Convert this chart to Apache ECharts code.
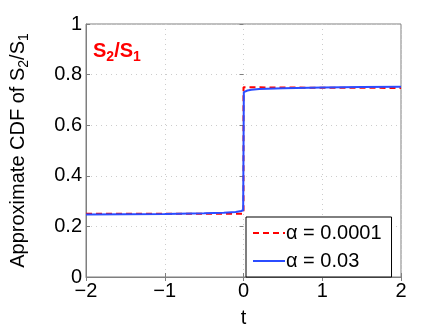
<!DOCTYPE html>
<html lang="en">
<head>
    <meta charset="UTF-8">
    <title>Approximate CDF</title>
    <style>
        html, body { margin: 0; padding: 0; background: #fff; }
        #chart { width: 443px; height: 333px; }
    </style>
</head>
<body>
    <div id="chart"></div>
    <script src="https://cdn.jsdelivr.net/npm/echarts@6/dist/echarts.min.js"></script>
    <script>
        // values
        var tRed = [-2, -1, -0.5, 0, 0, 0.5, 1, 1.5, 2];
        var cdfRed = [0.250, 0.250, 0.250, 0.250, 0.750, 0.749, 0.748, 0.748, 0.747];

        var tBlue = [-2, -1.5, -1, -0.5, -0.25, -0.1, -0.03, -0.004, 0.004, 0.05, 0.1, 0.2, 0.5, 1, 1.5, 2];
        var cdfBlue = [0.247, 0.248, 0.249, 0.252, 0.254, 0.257, 0.261, 0.264, 0.731, 0.737, 0.740, 0.743, 0.746, 0.749, 0.751, 0.752];

        var names = ['α = 0.0001', 'α = 0.03'];
        var xTicks = [-2, -1, 0, 1, 2];
        var yTicks = [0, 0.2, 0.4, 0.6, 0.8, 1];

        function pairs(xs, ys) {
            return xs.map(function (x, i) { return [x, ys[i]]; });
        }

        var font = 'Liberation Sans, Arial, sans-serif';
        var axisGrey = '#7f7f7f';

        var chart = echarts.init(document.getElementById('chart'));
        var option = {
            animation: false,
            textStyle: { fontFamily: font },
            grid: { left: 71, right: 42, top: 24, bottom: 48, show: true, borderColor: axisGrey, borderWidth: 1 },
            xAxis: [{
                type: 'value', min: -2, max: 2, interval: 1,
                name: 't', nameLocation: 'middle', nameGap: 31,
                nameTextStyle: { fontSize: 20, color: '#000', fontFamily: font },
                axisLine: { show: true, onZero: false, lineStyle: { color: axisGrey } },
                axisTick: { inside: true, length: 4, lineStyle: { color: axisGrey } },
                axisLabel: {
                    fontSize: 20, color: '#000', margin: 4,
                    formatter: function (v) { return xTicks.indexOf(v) >= 0 ? String(v).replace('-', '\u2212') : ''; }
                },
                splitLine: { show: true, lineStyle: { color: '#cccccc', type: [1, 4] } }
            }, {
                type: 'value', min: -2, max: 2, interval: 1, position: 'top',
                axisLine: { show: false }, axisLabel: { show: false }, splitLine: { show: false },
                axisTick: { inside: true, length: 4, lineStyle: { color: axisGrey } }
            }],
            yAxis: [{
                type: 'value', min: 0, max: 1, interval: 0.2,
                name: '{n|Approximate CDF of S}{s|2}{n|/S}{s|1}',
                nameLocation: 'middle', nameGap: 55, nameRotate: 90,
                nameTextStyle: {
                    rich: {
                        n: { fontSize: 20, color: '#000', fontFamily: font, lineHeight: 26 },
                        s: { fontSize: 14, color: '#000', fontFamily: font, lineHeight: 14, verticalAlign: 'bottom' }
                    }
                },
                axisLine: { show: true, onZero: false, lineStyle: { color: axisGrey } },
                axisTick: { inside: true, length: 4, lineStyle: { color: axisGrey } },
                axisLabel: {
                    fontSize: 20, color: '#000', margin: 4,
                    formatter: function (v) {
                        var r = Math.round(v * 10) / 10;
                        return yTicks.indexOf(r) >= 0 ? String(r) : '';
                    }
                },
                splitLine: { show: true, lineStyle: { color: '#cccccc', type: [1, 4] } }
            }, {
                type: 'value', min: 0, max: 1, interval: 0.2, position: 'right',
                axisLine: { show: false }, axisLabel: { show: false }, splitLine: { show: false },
                axisTick: { inside: true, length: 4, lineStyle: { color: axisGrey } }
            }],
            legend: {
                left: 246, top: 217, width: 150, height: 61,
                orient: 'vertical',
                backgroundColor: '#fff',
                borderColor: '#000', borderWidth: 1,
                padding: [6, 10, 6, 6],
                itemGap: 8,
                itemWidth: 32, itemHeight: 14,
                itemStyle: { opacity: 0 },
                textStyle: { fontSize: 20, color: '#000', fontFamily: font, padding: [0, 0, 0, -4] },
                data: names
            },
            graphic: [{
                type: 'text', left: 93, top: 41,
                style: {
                    text: '{n|S}{s|2}{n|/S}{s|1}',
                    rich: {
                        n: { fontSize: 20, fontWeight: 'bold', fill: '#ff0000', fontFamily: font, lineHeight: 26 },
                        s: { fontSize: 14, fontWeight: 'bold', fill: '#ff0000', fontFamily: font, lineHeight: 14, verticalAlign: 'bottom' }
                    }
                }
            }],
            series: [{
                name: names[0], type: 'line', showSymbol: false, symbol: 'none',
                data: pairs(tRed, cdfRed),
                lineStyle: { color: '#ff0000', width: 2, type: [6, 4] },
                itemStyle: { color: '#ff0000' },
                z: 2
            }, {
                name: names[1], type: 'line', showSymbol: false, symbol: 'none',
                data: pairs(tBlue, cdfBlue),
                lineStyle: { color: '#2b4cff', width: 2 },
                itemStyle: { color: '#2b4cff' },
                z: 3
            }]
        };
        chart.setOption(option);
    </script>
</body>
</html>
